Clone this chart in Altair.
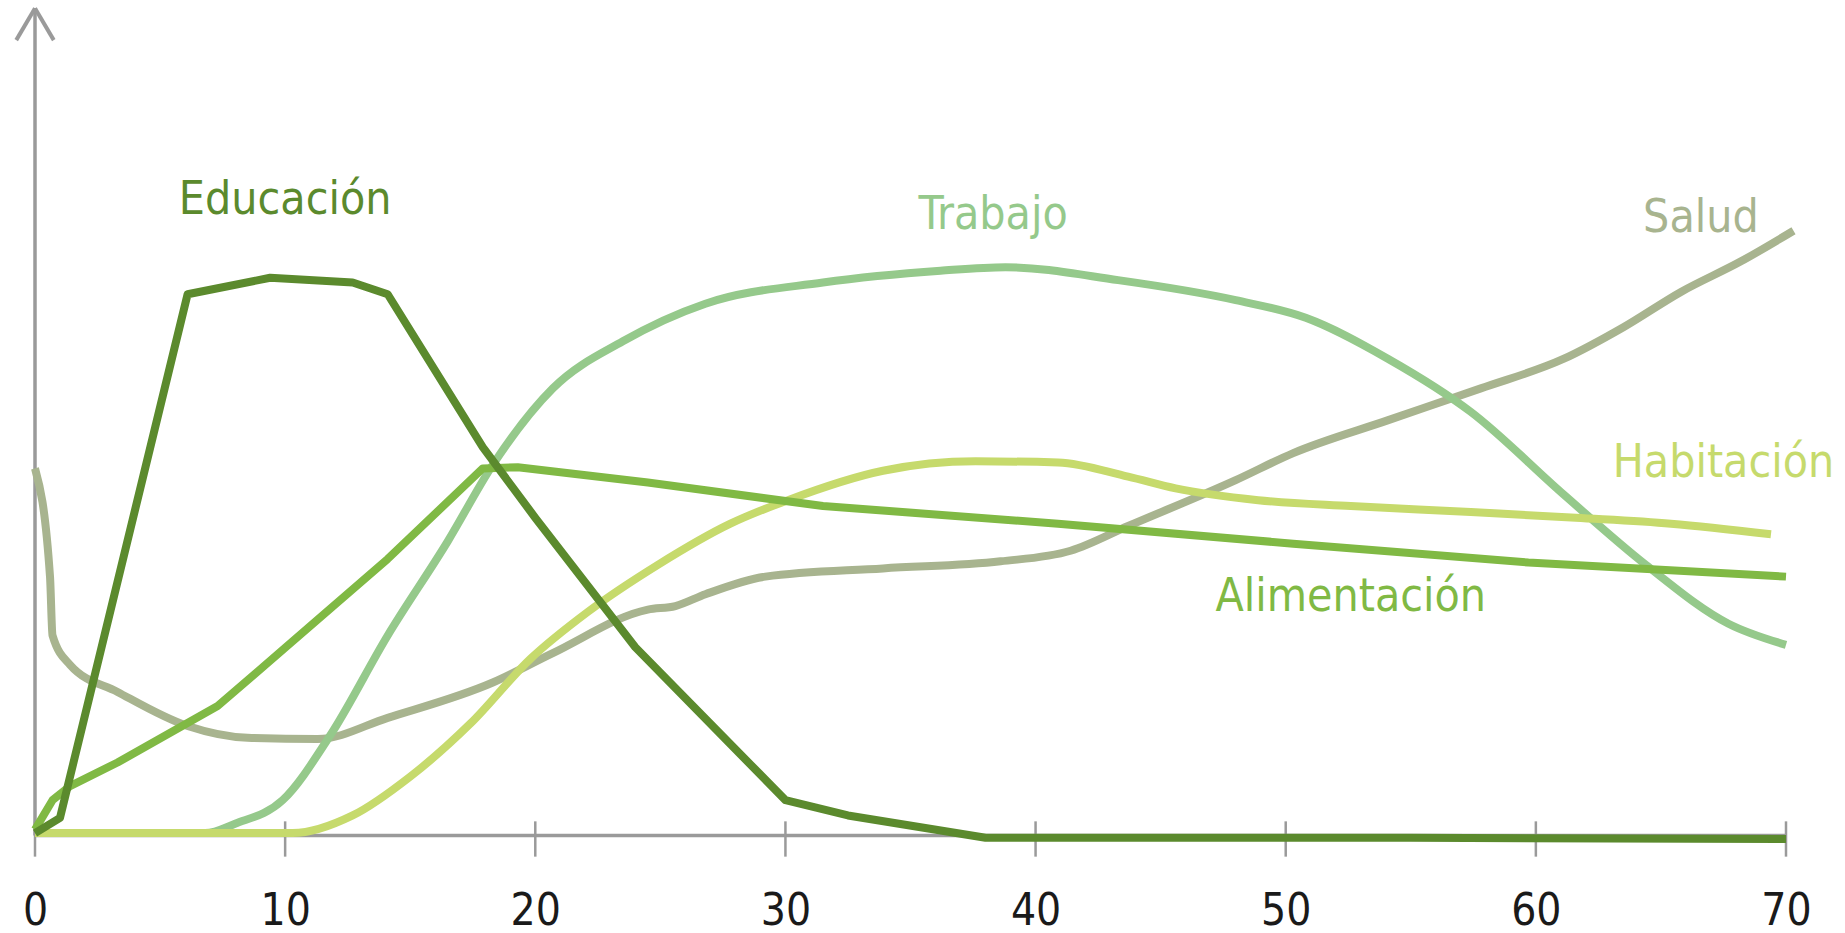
import altair as alt
import pandas as pd

# Age (years) and relative weight of each need along the life cycle
edu_x = [0, 1, 6.1, 9.4, 12.7, 14.1, 17.9, 20, 24, 30, 32.5, 38, 45, 55, 70]
edu_y = [2, 15, 460, 474, 470, 460, 330, 270, 160, 30, 17, -2, -2, -2, -3]

trab_x = [0, 6.8, 8, 9.9, 11.8, 14.1, 16.5, 18.3, 20.7, 23.5, 26.8, 31.5, 36.2, 38.8,
          43.3, 48, 50.8, 54.1, 57.4, 61.1, 64.4, 67.7, 70]
trab_y = [2, 2, 10, 30, 85, 170, 250, 315, 380, 420, 452, 470, 480, 483,
          472, 455, 440, 405, 360, 290, 230, 180, 162]

salud_x = [0, 0.6, 0.7, 1.4, 3.3, 6.1, 8.5, 11.3, 14.1, 18.3, 20.7, 24.5, 25.6, 26.8,
           29.2, 33.9, 38.6, 41.4, 43.7, 48, 50.3, 54.1, 57.8, 61.1, 63.5, 65.8, 68.2, 70.3]
salud_y = [312, 220, 170, 145, 122, 93, 83, 82, 100, 130, 155, 192, 195, 205,
           220, 227, 233, 242, 263, 302, 325, 353, 380, 405, 432, 462, 488, 514]

hab_x = [0, 10.3, 12.7, 15, 17.4, 19.8, 22.1, 24.9, 27.8, 30.1, 33.9, 37.6, 40.9,
         43.7, 45.6, 48.9, 52.6, 57.4, 61.6, 65.4, 69.4]
hab_y = [2, 2, 17, 50, 95, 150, 190, 230, 265, 285, 310, 318, 317,
         305, 295, 285, 280, 275, 270, 265, 256]

alim_x = [0, 0.7, 1.4, 3.3, 7.3, 10.3, 14.1, 17.9, 19.3, 24.5, 31.5, 40.9, 50.3, 59.7, 70]
alim_y = [5, 30, 42, 62, 110, 165, 235, 312, 313, 300, 280, 265, 248, 232, 220]

series = ["Salud", "Trabajo", "Habitación", "Alimentación", "Educación"]
colors = ["#a8b48f", "#95c98b", "#c6da6c", "#80b944", "#5b8a2d"]

# Label anchors (age, level) for each series name
label_x = [66.6, 38.3, 67.5, 52.6, 10.0]
label_y = [525, 527, 317, 203, 540]

tick_values = [0, 10, 20, 30, 40, 50, 60, 70]

smooth_rows, sharp_rows = [], []
for name, xs_, ys_, target in [("Salud", salud_x, salud_y, smooth_rows),
                               ("Trabajo", trab_x, trab_y, smooth_rows),
                               ("Habitación", hab_x, hab_y, smooth_rows),
                               ("Alimentación", alim_x, alim_y, sharp_rows),
                               ("Educación", edu_x, edu_y, sharp_rows)]:
    for a, b in zip(xs_, ys_):
        target.append({"serie": name, "edad": a, "nivel": b})
smooth_df = pd.DataFrame(smooth_rows)
sharp_df = pd.DataFrame(sharp_rows)

labels = pd.DataFrame({"serie": series, "edad": label_x, "nivel": label_y})

FONT = "DejaVu Sans Condensed, DejaVu Sans"
GREY = "#9a9a9a"


def xscale():
    return alt.Scale(domain=[0, 70], nice=False, zero=False)


def yscale():
    return alt.Scale(domain=[-20, 705], nice=False, zero=False)


def xaxis():
    return alt.Axis(values=tick_values, domain=False, ticks=False, grid=False,
                    labelFont=FONT, labelFontSize=44, labelColor="#1a1a1a",
                    labelFlush=False, labelPadding=30, title="")


def xenc(field):
    return alt.X(field, scale=xscale(), axis=xaxis())


def yenc(field):
    return alt.Y(field, scale=yscale(), axis=None)


color = alt.Color("serie:N", scale=alt.Scale(domain=series, range=colors), legend=None)

smooth_lines = alt.Chart(smooth_df).mark_line(
    strokeWidth=8, strokeJoin="round", interpolate="monotone"
).encode(x=xenc("edad:Q"), y=yenc("nivel:Q"), color=color)

sharp_lines = alt.Chart(sharp_df).mark_line(
    strokeWidth=8, strokeJoin="round"
).encode(x=xenc("edad:Q"), y=yenc("nivel:Q"), color=color)

# Axes drawn as rules: baseline, vertical arrow and crossing ticks
axis_df = pd.DataFrame({"x": [0, 0], "xe": [70, 0], "y": [0, 0], "ye": [0, 703]})
axis_rules = alt.Chart(axis_df).mark_rule(color=GREY, strokeWidth=3.5).encode(
    x=xenc("x:Q"), x2="xe:Q", y=yenc("y:Q"), y2="ye:Q",
)

arrow_df = pd.DataFrame({"x": [-0.75, 0.75], "xe": [0, 0], "y": [676, 676], "ye": [703, 703]})
arrow = alt.Chart(arrow_df).mark_rule(color=GREY, strokeWidth=4).encode(
    x=xenc("x:Q"), x2="xe:Q", y=yenc("y:Q"), y2="ye:Q",
)

ticks_df = pd.DataFrame({"x": tick_values, "y": [12] * 8, "ye": [-18] * 8})
ticks = alt.Chart(ticks_df).mark_rule(color=GREY, strokeWidth=2.5).encode(
    x=xenc("x:Q"), y=yenc("y:Q"), y2="ye:Q",
)

texts = alt.Chart(labels).mark_text(font=FONT, fontSize=46, align="center",
                                     baseline="middle").encode(
    x=xenc("edad:Q"), y=yenc("nivel:Q"), text="serie:N", color=color,
)

chart = alt.layer(axis_rules, ticks, arrow, smooth_lines, sharp_lines, texts).properties(
    width=1751, height=853,
    autosize=alt.AutoSizeParams(type="none"),
    padding={"left": 35, "top": 6, "right": 59, "bottom": 74},
    background="white",
).configure_view(strokeWidth=0)

chart.save("out.html", embed_options={"renderer": "svg", "actions": False})
